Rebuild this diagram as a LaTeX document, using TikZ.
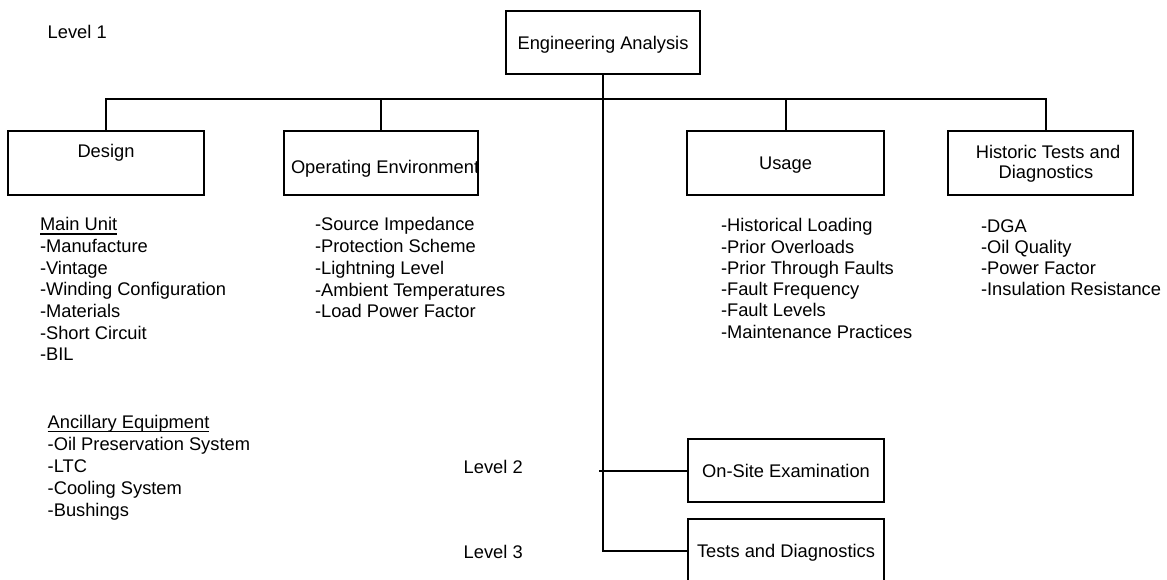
\documentclass[tikz,border=0pt]{standalone}
\usepackage{fontspec}
\setmainfont{Liberation Sans}
\newcommand\ulin[1]{\setbox0\hbox{#1}\rlap{\rule[-4pt]{\wd0}{1.3pt}}\box0}
\begin{document}
\begin{tikzpicture}[x=1pt,y=-1pt,
  font=\fontsize{18.3pt}{21.7pt}\selectfont,
  line width=2pt,
  box/.style={draw, line width=2pt, inner sep=0pt, text height=13pt, text depth=0pt},
  txt/.style={inner sep=0pt, anchor=base west},
  ctxt/.style={inner sep=0pt, anchor=base}]
\useasboundingbox (0,0) rectangle (1167,579);
\clip (0,0) rectangle (1167,579);

% boxes
\node[box, minimum width=194pt, minimum height=63pt] (ea) at (603,42.5) {Engineering Analysis};
\node[box, minimum width=196pt, minimum height=64pt] (design) at (106,163) {};
\node[box, minimum width=194pt, minimum height=64pt] (openv) at (381,163) {};
\node[box, minimum width=197pt, minimum height=64pt] (usage) at (785.5,163) {Usage};
\node[box, minimum width=185pt, minimum height=64pt] (hist) at (1040.5,163) {};
\node[box, minimum width=196pt, minimum height=63pt] (onsite) at (786,470.7) {On-Site Examination};
\node[box, minimum width=196pt, minimum height=64pt] (tests) at (786,550.5) {Tests and Diagnostics};

% box texts placed apart
\node[ctxt] (designT) at (106,157) {Design};
\node[txt] (openvT) at (290,173) {Operating Environment};
\node[ctxt] (hist1) at (1048,158.2) {Historic Tests and};
\node[ctxt] (hist2) at (1046,178.8) {Diagnostics};

% level labels
\node[txt] (lev1) at (46.7,38.3) {Level 1};
\node[txt] (lev2) at (462.7,473) {Level 2};
\node[txt] (lev3) at (462.7,558.3) {Level 3};

% connectors
\coordinate (bar) at (0,99);
\draw (design.north) -- (design.north |- bar) -- ([xshift=5.5pt]hist.north |- bar) -- ([xshift=5.5pt]hist.north);
\draw (openv.north) -- (openv.north |- bar);
\draw (usage.north) -- (usage.north |- bar);
\draw (ea.south) |- (tests.west);
\coordinate (l2) at (599.3,470.7);
\draw (l2) -- (onsite.west);

% Design list
\node[txt] (mu) at (39,230.7) {\ulin{Main Unit}};
\foreach \t [count=\i] in {-Manufacture,-Vintage,-Winding Configuration,-Materials,-Short Circuit,-BIL}
  \node[txt] (dl\i) at (39,230.7+21.67*\i) {\t};

% Ancillary list
\node[txt] (anc) at (46.7,428.3) {\ulin{Ancillary Equipment}};
\foreach \t [count=\i] in {-Oil Preservation System,-LTC,-Cooling System,-Bushings}
  \node[txt] (al\i) at (46.7,428.3+22.1*\i) {\t};

% Operating environment list
\foreach \t [count=\i from 0] in {-Source Impedance,-Protection Scheme,-Lightning Level,-Ambient Temperatures,-Load Power Factor}
  \node[txt] (ol\i) at (314,230.7+21.8*\i) {\t};

% Usage list
\foreach \t [count=\i from 0] in {-Historical Loading,-Prior Overloads,-Prior Through Faults,-Fault Frequency,-Fault Levels,-Maintenance Practices}
  \node[txt] (ul\i) at (720,231.7+21.3*\i) {\t};

% Historic list
\foreach \t [count=\i from 0] in {-DGA,-Oil Quality,-Power Factor,-Insulation Resistance}
  \node[txt] (hl\i) at (980,232.3+21.2*\i) {\t};
\end{tikzpicture}
\end{document}
